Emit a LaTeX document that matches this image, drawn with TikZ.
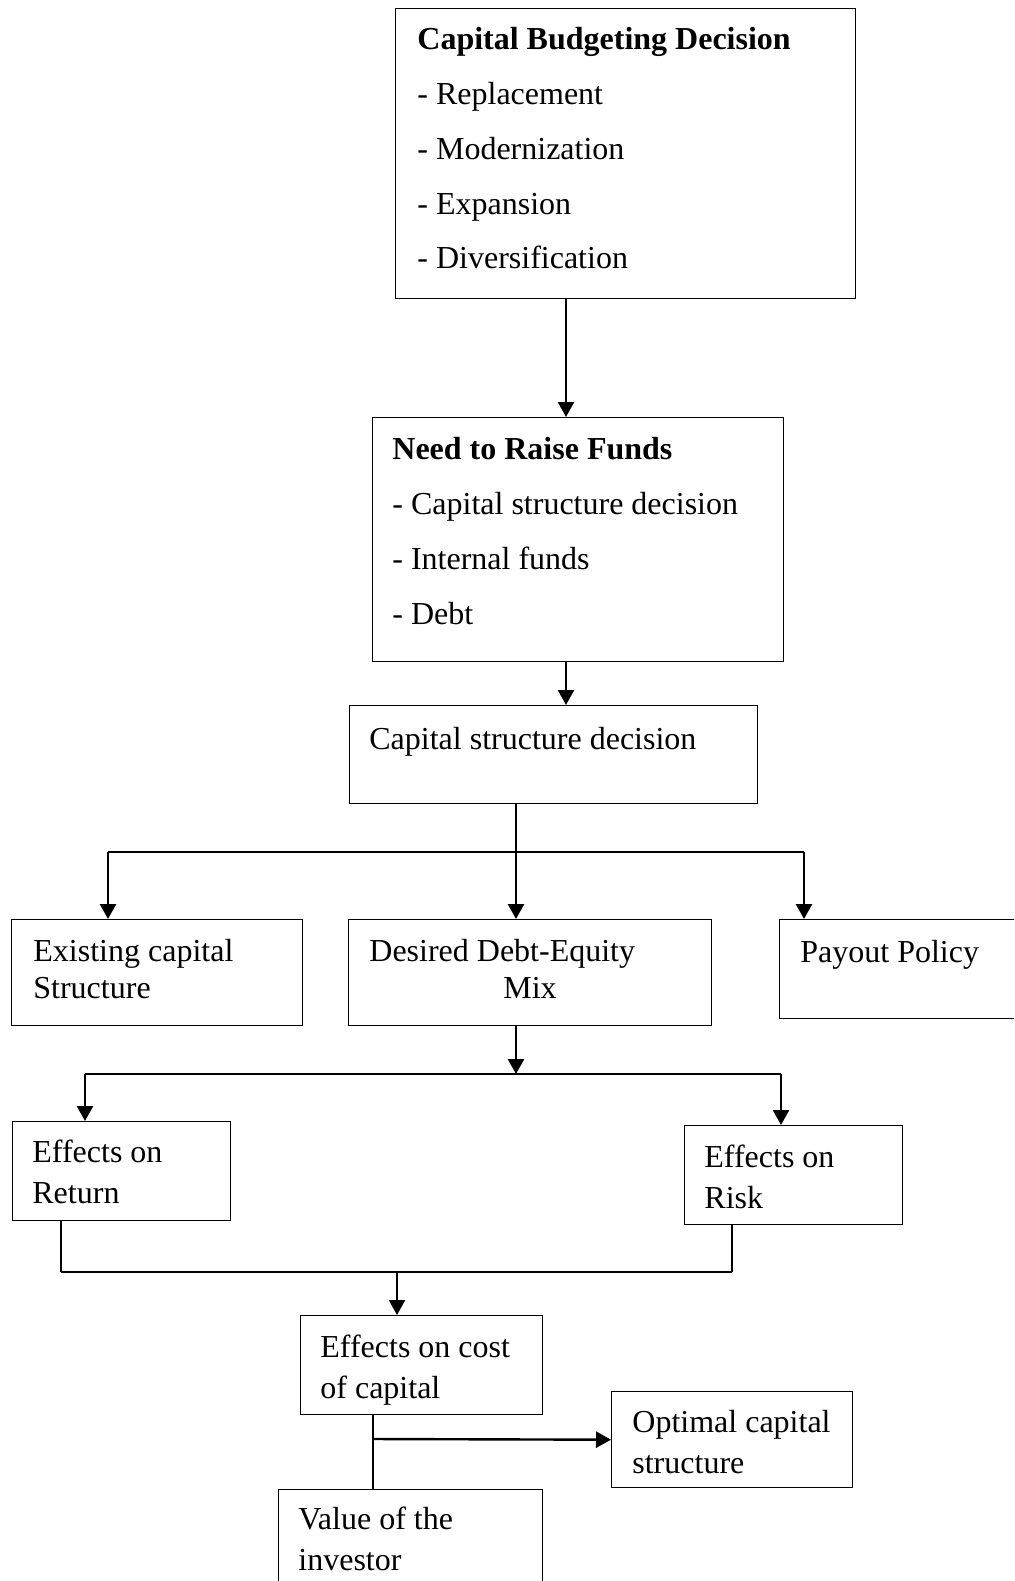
\documentclass[tikz,border=0pt]{standalone}
\usepackage{fontspec}
\setmainfont{Liberation Serif}
\usetikzlibrary{arrows.meta}

\begin{document}
\begin{tikzpicture}[x=0.5pt,y=-0.5pt]
	\tikzset{box/.style={draw,line width=0.7pt,rectangle,anchor=north west,inner sep=0pt},
		txt/.style={anchor=north west,align=left,inner sep=0pt,font=\fontsize{16}{20.5}\selectfont},
		tight/.style={txt,font=\fontsize{16}{18.5}\selectfont},
		list/.style={txt,font=\fontsize{16}{27.4}\selectfont},
		arr/.style={line width=1.2pt,-{Triangle[width=8pt,length=7.5pt]}},
		link/.style={line width=1.2pt},
		thin link/.style={line width=0.7pt}}
	\useasboundingbox (0,0) rectangle (1014,1581);
	\clip (0,0) rectangle (1014,1581);

	\node[box,minimum width=230pt,minimum height=145pt] (cbd) at (395,8) {};
	\node[list] (cbd-t) at ([shift={(22,19)}]cbd.north west) {\textbf{Capital Budgeting Decision}\\- Replacement\\- Modernization\\- Expansion\\- Diversification};
	\node[box,minimum width=205.5pt,minimum height=122pt] (funds) at (372,417) {};
	\node[list] (funds-t) at ([shift={(20,20)}]funds.north west) {\textbf{Need to Raise Funds}\\- Capital structure decision\\- Internal funds\\- Debt};
	\node[box,minimum width=204pt,minimum height=49pt] (csd) at (349,705) {};
	\node[txt] (csd-t) at ([shift={(20,22)}]csd.north west) {Capital structure decision};

	\node[box,minimum width=145.5pt,minimum height=53pt] (existing) at (11,919) {};
	\node[tight] (existing-t) at ([shift={(22,20)}]existing.north west) {Existing capital\\Structure};
	\node[box,minimum width=181.5pt,minimum height=53pt] (mix) at (348,919) {};
	\node[tight] (mix-t) at ([shift={(21,20)}]mix.north west) {Desired Debt-Equity\\\hspace*{67pt}Mix};
	\node[box,minimum width=120pt,minimum height=49.5pt] (payout) at (779,919) {};
	\node[txt] (payout-t) at ([shift={(21,21)}]payout.north west) {Payout Policy};

	\node[box,minimum width=109pt,minimum height=49.5pt] (ret) at (12,1121) {};
	\node[txt] (ret-t) at ([shift={(20,19)}]ret.north west) {Effects on\\Return};
	\node[box,minimum width=109pt,minimum height=49.5pt] (risk) at (684,1125) {};
	\node[txt] (risk-t) at ([shift={(20,20)}]risk.north west) {Effects on\\Risk};

	\node[box,minimum width=121pt,minimum height=49.5pt] (cost) at (300,1315) {};
	\node[txt] (cost-t) at ([shift={(20,20)}]cost.north west) {Effects on cost\\of capital};
	\node[box,minimum width=120.5pt,minimum height=48pt] (optimal) at (611,1391) {};
	\node[txt] (optimal-t) at ([shift={(21,19)}]optimal.north west) {Optimal capital\\structure};
	\node[box,minimum width=132pt,minimum height=55pt] (value) at (278,1489) {};
	\node[txt] (value-t) at ([shift={(20,18)}]value.north west) {Value of the\\investor};

	\coordinate (spine) at (566,0);
	\coordinate (split) at (516,852);
	\coordinate (split-l) at (108,852);
	\coordinate (split-r) at (804,852);
	\coordinate (fork) at (516,1074);
	\coordinate (fork-l) at (85,1074);
	\coordinate (fork-r) at (781,1074);
	\coordinate (join) at (397,1272);
	\coordinate (join-l) at (61,1272);
	\coordinate (join-r) at (732,1272);
	\coordinate (tee) at (373,1439);

	\draw[arr] (cbd.south -| spine) -- (funds.north -| spine);
	\draw[arr] (funds.south -| spine) -- (csd.north -| spine);
	\draw[arr] (csd.south -| split) -- (mix.north -| split);
	\draw[link] (split-l) -- (split-r);
	\draw[arr] (split-l) -- (existing.north -| split-l);
	\draw[arr] (split-r) -- (payout.north -| split-r);
	\draw[arr] (mix.south -| fork) -- (fork);
	\draw[link] (fork-l) -- (fork-r);
	\draw[arr] (fork-l) -- (ret.north -| fork-l);
	\draw[arr] (fork-r) -- (risk.north -| fork-r);
	\draw[thin link] (ret.south -| join-l) -- (join-l);
	\draw[thin link] (risk.south -| join-r) -- (join-r);
	\draw[link] (join-l) -- (join-r);
	\draw[arr] (join) -- (cost.north -| join);
	\draw[thin link] (cost.south -| tee) -- (value.north -| tee);
	\draw[arr] (tee) -- (optimal.west);
\end{tikzpicture}
\end{document}
